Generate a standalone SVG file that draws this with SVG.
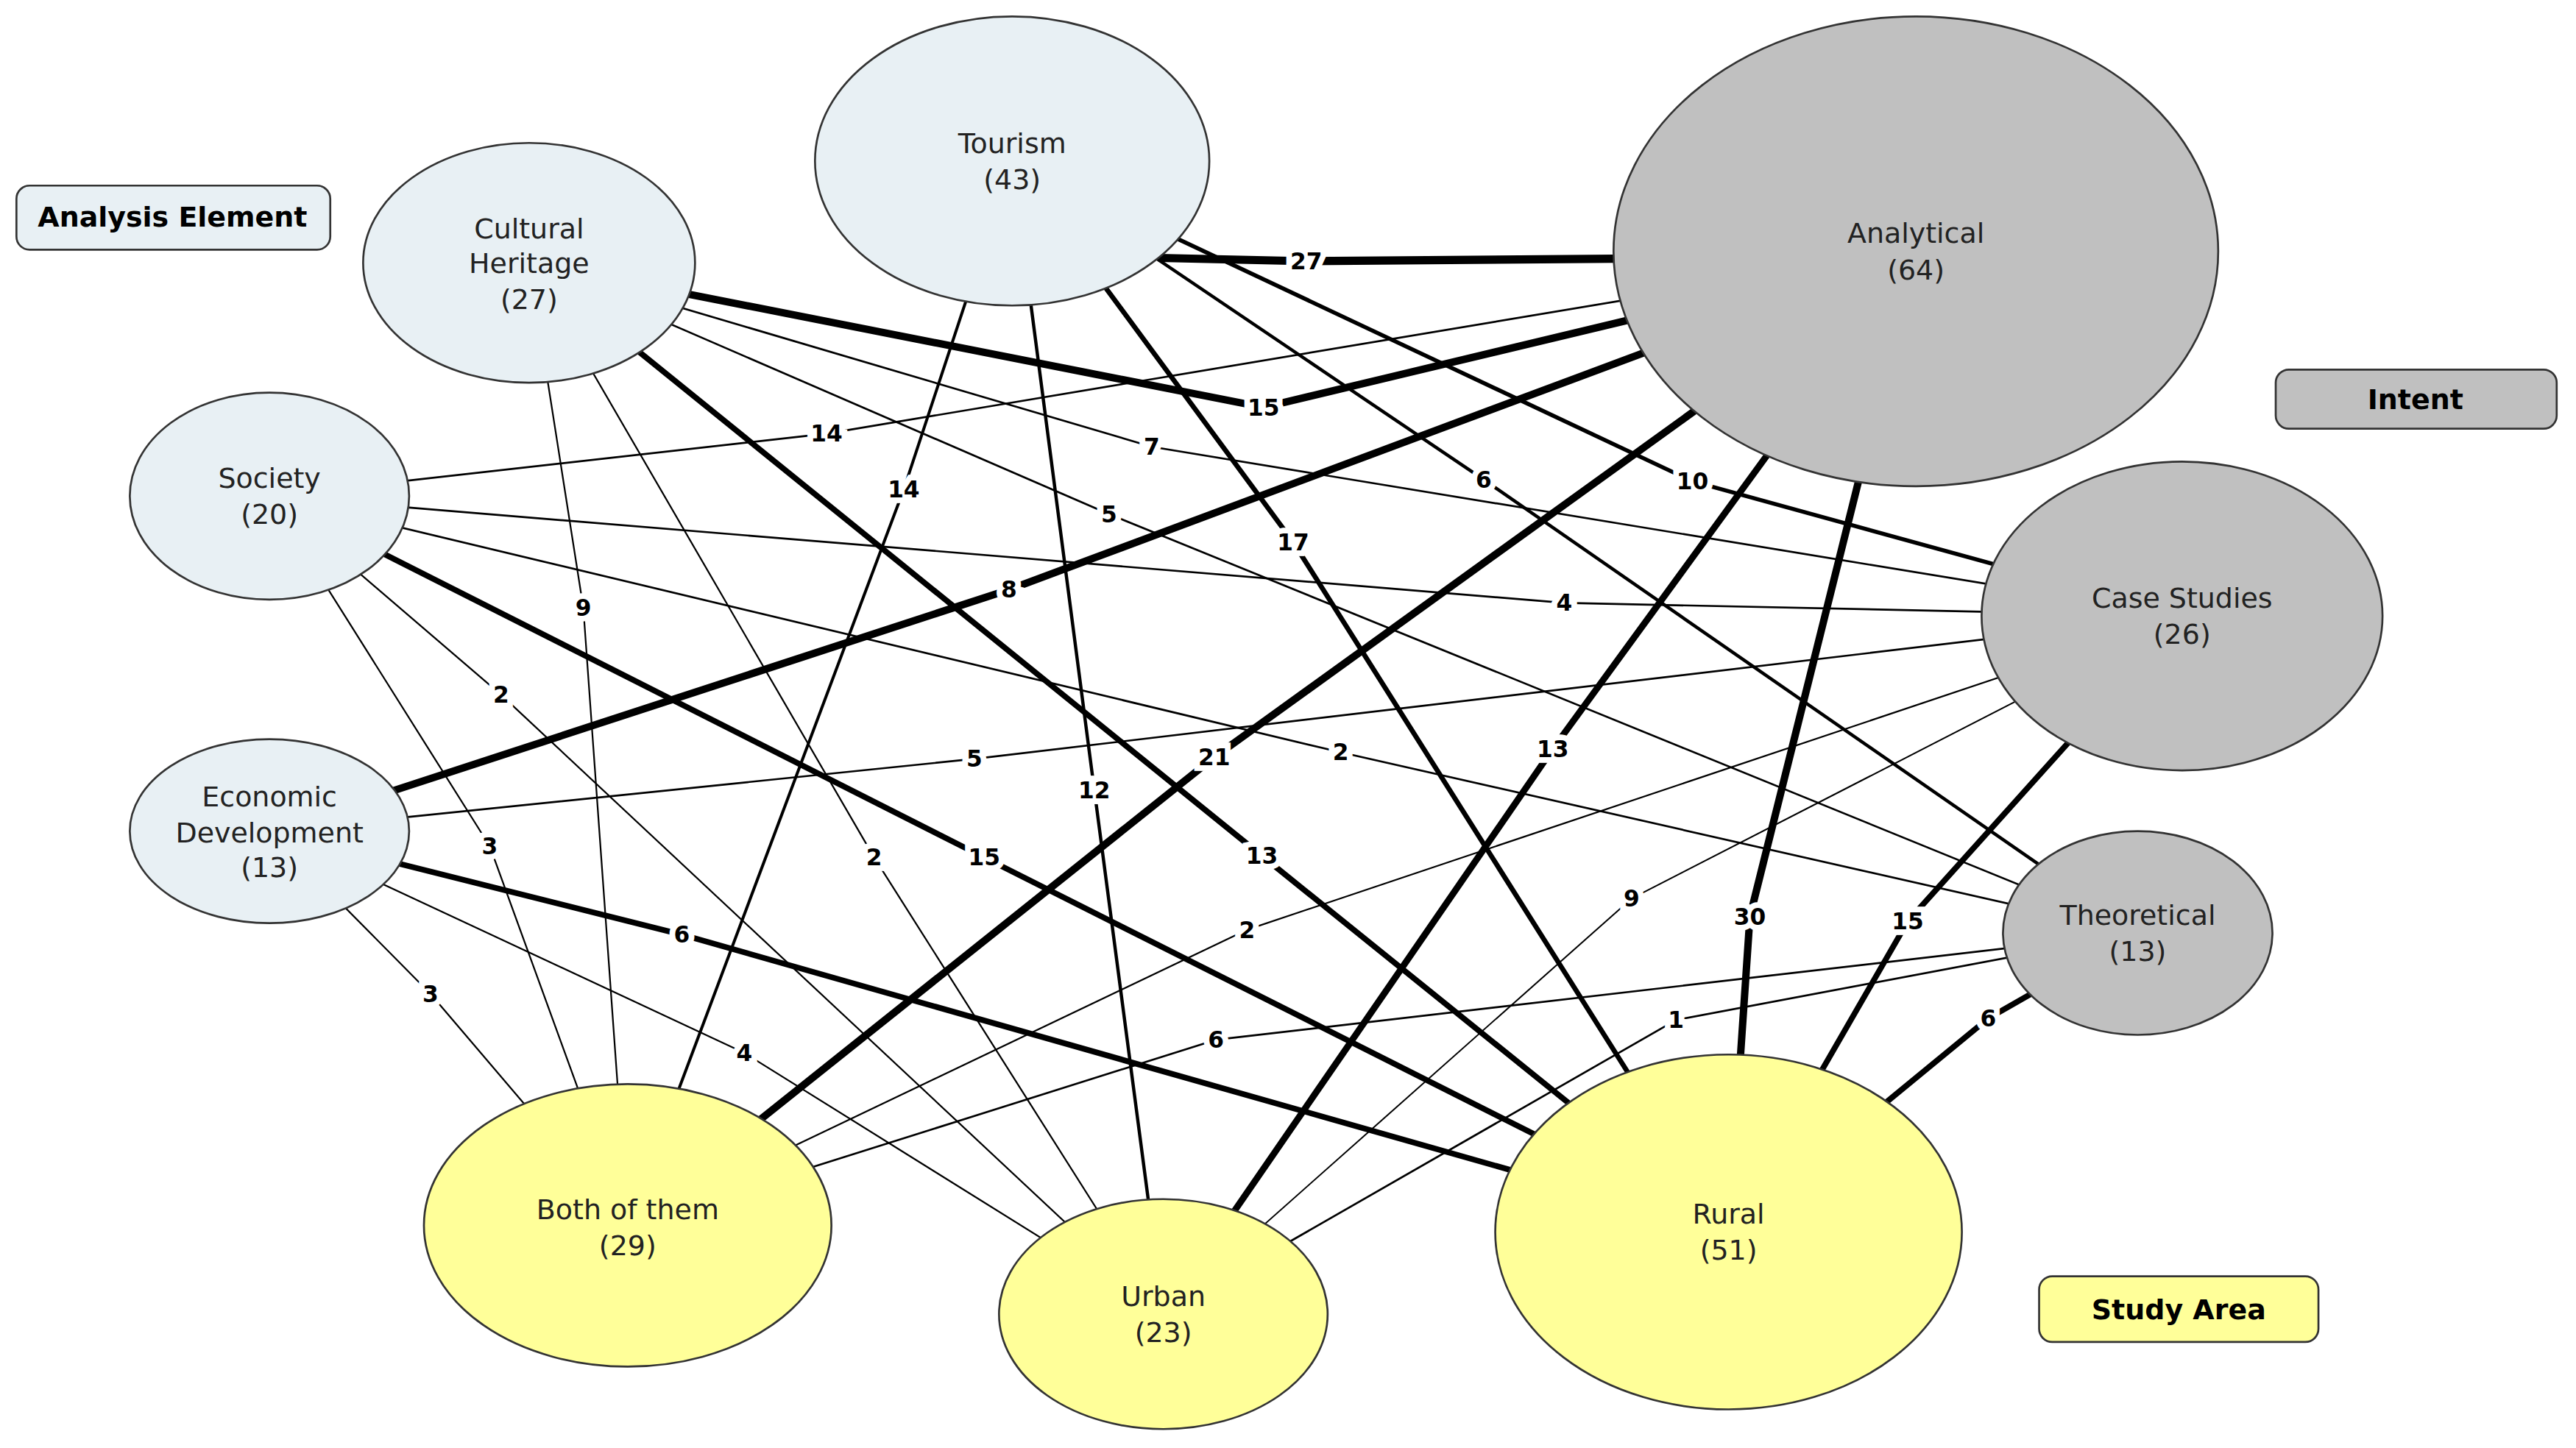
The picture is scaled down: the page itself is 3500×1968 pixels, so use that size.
<svg xmlns="http://www.w3.org/2000/svg" width="3500" height="1968" viewBox="0 0 3500 1968">
<style>
.e{fill:none;stroke:#000;stroke-linejoin:round}
.el{font-family:"DejaVu Sans",Verdana,sans-serif;font-size:14px;font-weight:bold;text-anchor:middle;dominant-baseline:central;fill:#000;stroke:#fff;stroke-width:7px;paint-order:stroke}
.n{stroke:#333;stroke-width:1.2}
.a{fill:#e8f0f4}.i{fill:#c0c0c0}.s{fill:#ffff99}
.nt{font-family:"DejaVu Sans",Verdana,sans-serif;font-size:17px;text-anchor:middle;fill:#222}
.lg{font-family:"DejaVu Sans",Verdana,sans-serif;font-size:17px;font-weight:bold;text-anchor:middle;fill:#000}
</style>
<rect width="3500" height="1968" fill="#fff"/>
<g transform="scale(2.2325)">
<g id="edges">
<polyline class="e" stroke-width="5" points="705,157 795,159 1166,156"/>
<polyline class="e" stroke-width="4.5" points="322,160 769,248 1166,153"/>
<polyline class="e" stroke-width="1.2" points="164,302 503,264 1166,153"/>
<polyline class="e" stroke-width="4.5" points="164,506 614,359 1166,153"/>
<polyline class="e" stroke-width="1.2" points="322,160 701,272 1328,375"/>
<polyline class="e" stroke-width="2.5" points="616,98 1030,293 1328,375"/>
<polyline class="e" stroke-width="2" points="616,98 903,292 1301,568"/>
<polyline class="e" stroke-width="1.2" points="164,302 952,367 1328,375"/>
<polyline class="e" stroke-width="1.2" points="322,160 675,313 1301,568"/>
<polyline class="e" stroke-width="1.2" points="164,302 816,458 1301,568"/>
<polyline class="e" stroke-width="1.2" points="164,506 593,462 1328,375"/>
<polyline class="e" stroke-width="1" points="382,746 759,566 1328,375"/>
<polyline class="e" stroke-width="0.9" points="708,800 993,547 1328,375"/>
<polyline class="e" stroke-width="4.5" points="382,746 739,461 1166,153"/>
<polyline class="e" stroke-width="4" points="708,800 945,456 1166,153"/>
<polyline class="e" stroke-width="4.5" points="1052,750 1065,558 1166,153"/>
<polyline class="e" stroke-width="3.5" points="1052,750 1161,561 1328,375"/>
<polyline class="e" stroke-width="3.5" points="1052,750 1210,620 1301,568"/>
<polyline class="e" stroke-width="1.2" points="708,800 1020,621 1301,568"/>
<polyline class="e" stroke-width="1.2" points="382,746 740,633 1301,568"/>
<polyline class="e" stroke-width="3" points="616,98 787,330 1052,750"/>
<polyline class="e" stroke-width="2" points="616,98 666,481 708,800"/>
<polyline class="e" stroke-width="1.8" points="616,98 550,298 382,746"/>
<polyline class="e" stroke-width="1" points="322,160 355,370 382,746"/>
<polyline class="e" stroke-width="1" points="322,160 532,522 708,800"/>
<polyline class="e" stroke-width="3.5" points="322,160 768,521 1052,750"/>
<polyline class="e" stroke-width="3.5" points="164,302 599,522 1052,750"/>
<polyline class="e" stroke-width="1" points="164,302 305,423 708,800"/>
<polyline class="e" stroke-width="1" points="164,302 298,515 382,746"/>
<polyline class="e" stroke-width="3.5" points="164,506 415,569 1052,750"/>
<polyline class="e" stroke-width="1" points="164,506 453,641 708,800"/>
<polyline class="e" stroke-width="1" points="164,506 262,605 382,746"/>
</g>
<g id="edge-labels">
<text class="el" x="795" y="159">27</text>
<text class="el" x="769" y="248">15</text>
<text class="el" x="503" y="264">14</text>
<text class="el" x="614" y="359">8</text>
<text class="el" x="701" y="272">7</text>
<text class="el" x="1030" y="293">10</text>
<text class="el" x="903" y="292">6</text>
<text class="el" x="952" y="367">4</text>
<text class="el" x="675" y="313">5</text>
<text class="el" x="816" y="458">2</text>
<text class="el" x="593" y="462">5</text>
<text class="el" x="759" y="566">2</text>
<text class="el" x="993" y="547">9</text>
<text class="el" x="739" y="461">21</text>
<text class="el" x="945" y="456">13</text>
<text class="el" x="1065" y="558">30</text>
<text class="el" x="1161" y="561">15</text>
<text class="el" x="1210" y="620">6</text>
<text class="el" x="1020" y="621">1</text>
<text class="el" x="740" y="633">6</text>
<text class="el" x="787" y="330">17</text>
<text class="el" x="666" y="481">12</text>
<text class="el" x="550" y="298">14</text>
<text class="el" x="355" y="370">9</text>
<text class="el" x="532" y="522">2</text>
<text class="el" x="768" y="521">13</text>
<text class="el" x="599" y="522">15</text>
<text class="el" x="305" y="423">2</text>
<text class="el" x="298" y="515">3</text>
<text class="el" x="415" y="569">6</text>
<text class="el" x="453" y="641">4</text>
<text class="el" x="262" y="605">3</text>
</g>
<g id="node-cultural-heritage"><ellipse class="n a" cx="322" cy="160" rx="101" ry="73"/><text class="nt" x="322" y="145">Cultural</text><text class="nt" x="322" y="166">Heritage</text><text class="nt" x="322" y="188">(27)</text></g>
<g id="node-tourism"><ellipse class="n a" cx="616" cy="98" rx="120" ry="88"/><text class="nt" x="616" y="93">Tourism</text><text class="nt" x="616" y="115">(43)</text></g>
<g id="node-society"><ellipse class="n a" cx="164" cy="302" rx="85" ry="63"/><text class="nt" x="164" y="297">Society</text><text class="nt" x="164" y="319">(20)</text></g>
<g id="node-economic-development"><ellipse class="n a" cx="164" cy="506" rx="85" ry="56"/><text class="nt" x="164" y="491">Economic</text><text class="nt" x="164" y="513">Development</text><text class="nt" x="164" y="534">(13)</text></g>
<g id="node-analytical"><ellipse class="n i" cx="1166" cy="153" rx="184" ry="143"/><text class="nt" x="1166" y="148">Analytical</text><text class="nt" x="1166" y="170">(64)</text></g>
<g id="node-case-studies"><ellipse class="n i" cx="1328" cy="375" rx="122" ry="94"/><text class="nt" x="1328" y="370">Case Studies</text><text class="nt" x="1328" y="392">(26)</text></g>
<g id="node-theoretical"><ellipse class="n i" cx="1301" cy="568" rx="82" ry="62"/><text class="nt" x="1301" y="563">Theoretical</text><text class="nt" x="1301" y="585">(13)</text></g>
<g id="node-both"><ellipse class="n s" cx="382" cy="746" rx="124" ry="86"/><text class="nt" x="382" y="742">Both of them</text><text class="nt" x="382" y="764">(29)</text></g>
<g id="node-urban"><ellipse class="n s" cx="708" cy="800" rx="100" ry="70"/><text class="nt" x="708" y="795">Urban</text><text class="nt" x="708" y="817">(23)</text></g>
<g id="node-rural"><ellipse class="n s" cx="1052" cy="750" rx="142" ry="108"/><text class="nt" x="1052" y="745">Rural</text><text class="nt" x="1052" y="767">(51)</text></g>
<g id="legend-analysis"><rect class="n a" x="10" y="113" width="191" height="39" rx="8"/><text class="lg" x="105" y="138">Analysis Element</text></g>
<g id="legend-intent"><rect class="n i" x="1385" y="225" width="171" height="36" rx="8"/><text class="lg" x="1470" y="249">Intent</text></g>
<g id="legend-study"><rect class="n s" x="1241" y="777" width="170" height="40" rx="8"/><text class="lg" x="1326" y="803">Study Area</text></g>
</g>
</svg>
